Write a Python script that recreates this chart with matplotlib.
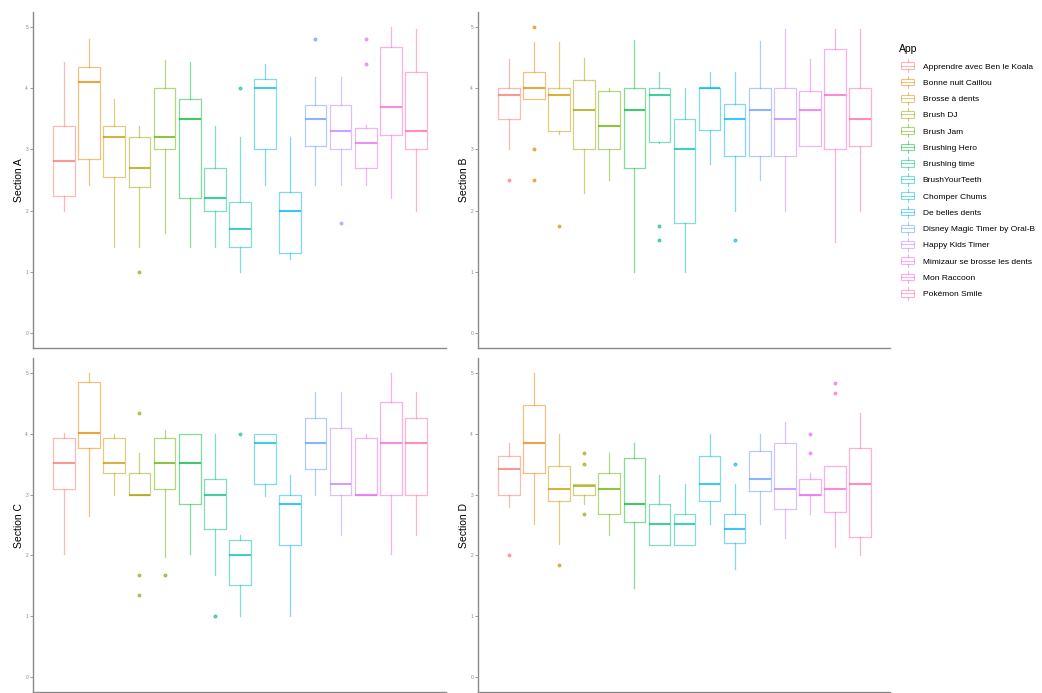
import matplotlib
matplotlib.use("Agg")
import matplotlib.pyplot as plt
from matplotlib.legend_handler import HandlerBase
from matplotlib.lines import Line2D
from matplotlib.patches import Rectangle

plt.rcParams['font.family'] = ['Liberation Sans', 'DejaVu Sans']

# ==========================
# DATA
# ==========================
APPS = [
    "Apprendre avec Ben le Koala", "Bonne nuit Caillou", "Brosse à dents",
    "Brush DJ", "Brush Jam", "Brushing Hero", "Brushing time",
    "BrushYourTeeth", "Chomper Chums", "De belles dents",
    "Disney Magic Timer by Oral-B", "Happy Kids Timer",
    "Mimizaur se brosse les dents", "Mon Raccoon", "Pokémon Smile",
]

# ggplot default hue palette for 15 levels
COLORS = [
    "#F8766D", "#E58700", "#C99800", "#A3A500", "#6BB100", "#00BA38",
    "#00BF7D", "#00C0AF", "#00BCD8", "#00B0F6", "#619CFF", "#B983FF",
    "#E76BF3", "#FD61D1", "#FF67A4",
]

SECTIONS = ["Section A", "Section B", "Section C", "Section D"]

# (whisker low, Q1, median, Q3, whisker high) per app
SECTION_A_BOX = [
    (2.0, 2.24, 2.81, 3.39, 4.43), (2.42, 2.84, 4.1, 4.35, 4.81),
    (1.4, 2.55, 3.2, 3.39, 3.82), (1.4, 2.39, 2.7, 3.2, 3.39),
    (1.63, 3.0, 3.2, 4.0, 4.46), (1.4, 2.2, 3.5, 3.82, 4.43),
    (1.4, 2.0, 2.2, 2.7, 3.39), (1.0, 1.4, 1.7, 2.14, 3.2),
    (2.42, 3.0, 4.0, 4.15, 4.4), (1.2, 1.3, 2.0, 2.3, 3.2),
    (2.42, 3.06, 3.5, 3.73, 4.18), (2.42, 3.0, 3.3, 3.73, 4.18),
    (2.42, 2.7, 3.1, 3.35, 3.4), (2.2, 3.24, 3.7, 4.68, 5.0),
    (2.0, 3.0, 3.3, 4.27, 4.97),
]
SECTION_A_OUT = [[], [], [], [1.0], [], [], [], [4.0], [], [], [4.8], [1.8],
                 [4.8, 4.4], [], []]

SECTION_B_BOX = [
    (3.0, 3.5, 3.89, 4.0, 4.48), (3.82, 3.82, 4.01, 4.27, 4.76),
    (3.26, 3.3, 3.89, 4.0, 4.76), (2.29, 3.0, 3.64, 4.13, 4.5),
    (2.5, 3.0, 3.39, 3.96, 4.0), (1.0, 2.7, 3.64, 4.0, 4.79),
    (3.1, 3.13, 3.89, 4.0, 4.27), (1.0, 1.8, 3.0, 3.5, 4.0),
    (2.77, 3.32, 4.01, 4.01, 4.27), (2.0, 2.89, 3.5, 3.75, 4.27),
    (2.5, 2.89, 3.64, 4.0, 4.78), (2.0, 2.89, 3.5, 4.0, 4.97),
    (3.06, 3.06, 3.64, 3.96, 4.48), (1.49, 3.0, 3.89, 4.65, 4.97),
    (2.0, 3.06, 3.5, 4.0, 4.97),
]
SECTION_B_OUT = [[2.5], [5.0, 3.0, 2.5], [1.75], [], [], [], [1.75, 1.51], [],
                 [], [1.51], [], [], [], [], []]

SECTION_C_BOX = [
    (2.02, 3.1, 3.52, 3.93, 4.01), (2.65, 3.77, 4.01, 4.85, 5.0),
    (3.0, 3.35, 3.52, 3.93, 4.0), (3.0, 3.0, 3.0, 3.35, 3.68),
    (1.97, 3.1, 3.52, 3.93, 4.07), (2.02, 2.84, 3.52, 4.0, 4.0),
    (1.68, 2.43, 3.0, 3.26, 4.0), (1.0, 1.51, 2.01, 2.26, 2.33),
    (2.98, 3.18, 3.85, 4.0, 4.0), (1.0, 2.17, 2.84, 3.0, 3.33),
    (3.0, 3.43, 3.85, 4.27, 4.69), (2.33, 3.0, 3.18, 4.09, 4.69),
    (3.0, 3.0, 3.0, 3.93, 4.0), (2.02, 3.0, 3.85, 4.52, 5.0),
    (2.33, 3.0, 3.85, 4.27, 4.69),
]
SECTION_C_OUT = [[], [], [], [4.34, 1.68, 1.34], [1.68], [], [1.0], [4.0],
                 [], [], [], [], [], [], []]

SECTION_D_BOX = [
    (2.79, 3.0, 3.43, 3.64, 3.85), (2.52, 3.35, 3.85, 4.47, 5.0),
    (2.18, 2.9, 3.1, 3.47, 4.0), (2.85, 3.0, 3.15, 3.18, 3.18),
    (2.33, 2.68, 3.1, 3.35, 3.68), (1.46, 2.55, 2.84, 3.6, 3.85),
    (2.17, 2.17, 2.52, 2.84, 3.33), (2.17, 2.17, 2.52, 2.68, 3.18),
    (2.52, 2.89, 3.18, 3.64, 4.0), (1.78, 2.21, 2.43, 2.68, 3.18),
    (2.52, 3.06, 3.26, 3.72, 4.0), (2.29, 2.76, 3.1, 3.85, 4.2),
    (2.68, 3.0, 3.0, 3.26, 3.35), (2.14, 2.72, 3.1, 3.47, 3.47),
    (2.0, 2.3, 3.18, 3.77, 4.34),
]
SECTION_D_OUT = [[2.0], [], [1.84], [3.68, 3.51, 2.68], [], [], [], [], [],
                 [3.51], [], [], [4.0, 3.68], [4.84, 4.68], []]

BOXES = [SECTION_A_BOX, SECTION_B_BOX, SECTION_C_BOX, SECTION_D_BOX]
OUTLIERS = [SECTION_A_OUT, SECTION_B_OUT, SECTION_C_OUT, SECTION_D_OUT]

# ==========================
# LAYOUT
# ==========================
W, H = 1042, 693
fig = plt.figure(figsize=(W / 100, H / 100), dpi=100)

# panel rectangles in pixels: left, top, right, bottom
PANELS = [
    (33, 12, 446, 348),
    (478, 12, 890, 348),
    (33, 358, 446, 692),
    (478, 358, 890, 692),
]

AXIS_GREY = "#8a8a8a"
ALPHA = 0.5

for i, (x0, y0, x1, y1) in enumerate(PANELS):
    ax = fig.add_axes([x0 / W, 1 - y1 / H, (x1 - x0) / W, (y1 - y0) / H])
    for j, (lo, q1, med, q3, hi) in enumerate(BOXES[i]):
        c = COLORS[j]
        stats = [dict(whislo=lo, q1=q1, med=med, q3=q3, whishi=hi,
                      fliers=OUTLIERS[i][j])]
        ax.bxp(
            stats, positions=[j + 1], widths=0.86, showcaps=False,
            boxprops=dict(color=c, lw=0.9, alpha=ALPHA),
            whiskerprops=dict(color=c, lw=0.9, alpha=ALPHA),
            medianprops=dict(color=c, lw=1.5, alpha=0.75),
            flierprops=dict(marker="o", markersize=1.9, markerfacecolor=c,
                            markeredgecolor=c, alpha=0.6),
        )

    ax.set_xlim(-0.23, 16.19)
    ax.set_ylim(-0.25, 5.25)
    ax.set_xticks([])
    ax.set_yticks([0, 1, 2, 3, 4, 5])
    ax.set_yticklabels(["0", "1", "2", "3", "4", "5"])
    ax.tick_params(axis="y", length=2, width=0.6, color=AXIS_GREY,
                   labelsize=3.5, labelcolor="#888888", pad=1.5)
    for side in ["top", "right"]:
        ax.spines[side].set_visible(False)
    for side in ["left", "bottom"]:
        ax.spines[side].set_color(AXIS_GREY)
        ax.spines[side].set_linewidth(1.0)
    ax.set_ylabel(SECTIONS[i], fontsize=7.5, labelpad=1)


# ==========================
# LEGEND with boxplot keys
# ==========================
class BoxKey(HandlerBase):
    def create_artists(self, legend, orig_handle, xdescent, ydescent,
                       width, height, fontsize, trans):
        c = orig_handle.get_color()
        x = -xdescent
        y = -ydescent
        cx = x + width / 2
        bw = width * 0.8
        rect = Rectangle((cx - bw / 2, y + height * 0.05), bw, height * 0.9,
                         fill=False, ec=c, lw=0.8, alpha=ALPHA, transform=trans)
        mid = Line2D([cx - bw / 2, cx + bw / 2], [y + height / 2] * 2,
                     color=c, lw=0.8, alpha=ALPHA, transform=trans)
        top = Line2D([cx, cx], [y + height * 0.95, y + height * 1.35],
                     color=c, lw=0.8, alpha=ALPHA, transform=trans)
        bot = Line2D([cx, cx], [y + height * 0.05, y - height * 0.35],
                     color=c, lw=0.8, alpha=ALPHA, transform=trans)
        return [rect, mid, top, bot]


handles = [Line2D([], [], color=c) for c in COLORS]
fig.legend(
    handles, APPS, title="App", loc="upper left",
    bbox_to_anchor=(896 / W, 1 - 41 / H), frameon=False,
    fontsize=6, title_fontsize=7.5, alignment="left",
    handler_map={Line2D: BoxKey()}, handlelength=2.0, handleheight=1.0,
    handletextpad=0.8, labelspacing=0.92, borderaxespad=0,
)

plt.savefig("out.png", dpi=100)
plt.close()
